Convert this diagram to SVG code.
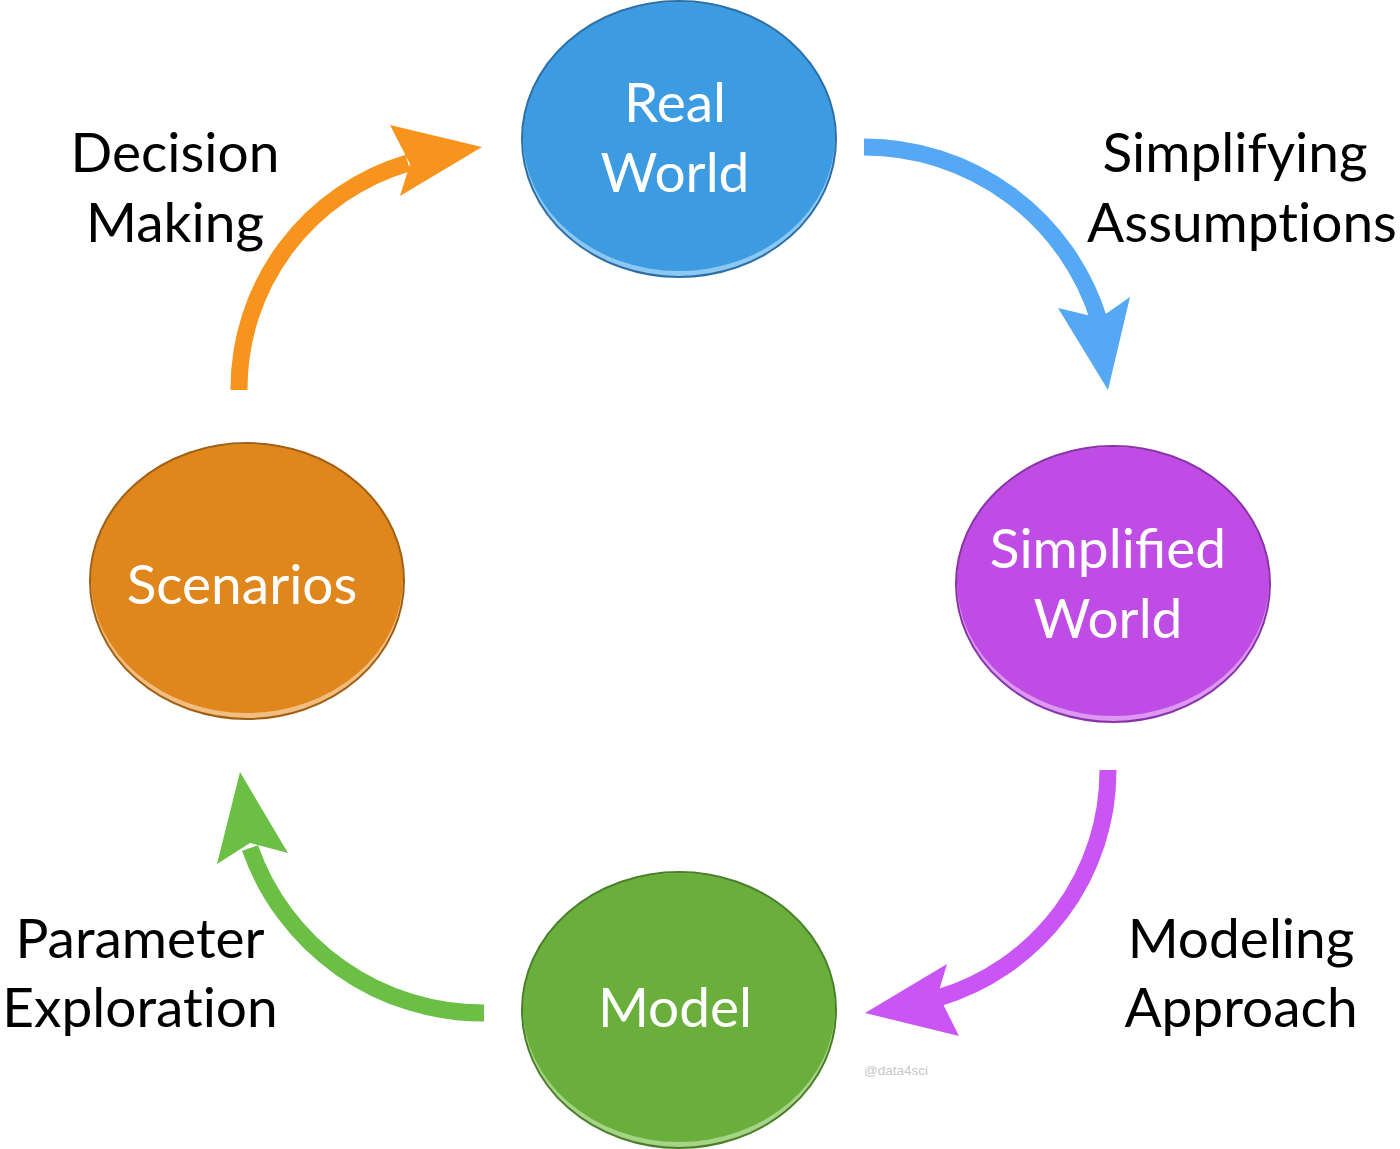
<svg xmlns="http://www.w3.org/2000/svg" width="1400" height="1149" viewBox="0 0 1400 1149">
  <style>
    .lbl { font-family: "Lato", "Open Sans", sans-serif; font-size: 55px; fill: #000; text-anchor: middle; font-variant-ligatures: none; }
    .nt { font-family: "Lato", "Open Sans", sans-serif; font-size: 55px; fill: #fff; text-anchor: middle; }
    .shaft { fill: none; stroke-width: 17; }
    .wm { font-family: "Liberation Sans", Arial, sans-serif; font-size: 13.5px; fill: #c8c8c8; }
  </style>
  <rect width="1400" height="1149" fill="#fff"/>

  <g id="connectors">
    <g id="edge-real-simplified">
      <path class="shaft" stroke="#55a8f4" d="M864,147 A245.6,245.6 0 0 1 1099,320"/>
      <polygon fill="#55a8f4" points="1108,390 1130,297 1100,318 1058,308"/>
    </g>
    <g id="edge-simplified-model">
      <path class="shaft" stroke="#c955f4" d="M1108,770 A237.4,237.4 0 0 1 938,998"/>
      <polygon fill="#c955f4" points="865,1013 947,964 938,994 959,1036"/>
    </g>
    <g id="edge-model-scenarios">
      <path class="shaft" stroke="#6cbf45" d="M484,1013 A246.6,246.6 0 0 1 250,848"/>
      <polygon fill="#6cbf45" points="240,772 288,853 250,843 217,864"/>
    </g>
    <g id="edge-scenarios-real">
      <path class="shaft" stroke="#f7941d" stroke-width="18" d="M239,390 A235.5,235.5 0 0 1 408,163"/>
      <polygon fill="#f7941d" points="482,147 390,125 410,164 400,196"/>
    </g>
  </g>

  <g id="node-real-world">
    <ellipse cx="679" cy="139" rx="157" ry="138" fill="#8cc8f2"/>
    <ellipse cx="679" cy="136.5" rx="156" ry="134.5" fill="#3d9be1"/>
    <ellipse cx="679" cy="139" rx="157" ry="138" fill="none" stroke="#2b6fa6" stroke-width="2"/>
    <text class="nt" x="675" y="122">Real</text>
    <text class="nt" x="675" y="192">World</text>
  </g>

  <g id="node-simplified-world">
    <ellipse cx="1113" cy="584" rx="157" ry="138" fill="#dc98f2"/>
    <ellipse cx="1113" cy="581.5" rx="156" ry="134.5" fill="#bf4ce5"/>
    <ellipse cx="1113" cy="584" rx="157" ry="138" fill="none" stroke="#8a32a8" stroke-width="2"/>
    <text class="nt" x="1108" y="568">Simplified</text>
    <text class="nt" x="1108" y="638">World</text>
  </g>

  <g id="node-model">
    <ellipse cx="679" cy="1010" rx="157" ry="138" fill="#a6d486"/>
    <ellipse cx="679" cy="1007.5" rx="156" ry="134.5" fill="#6aaf3c"/>
    <ellipse cx="679" cy="1010" rx="157" ry="138" fill="none" stroke="#4a7f2a" stroke-width="2"/>
    <text class="nt" x="675" y="1027">Model</text>
  </g>

  <g id="node-scenarios">
    <ellipse cx="247" cy="581" rx="157" ry="138" fill="#f2bd80"/>
    <ellipse cx="247" cy="578.5" rx="156" ry="134.5" fill="#df861c"/>
    <ellipse cx="247" cy="581" rx="157" ry="138" fill="none" stroke="#a05f12" stroke-width="2"/>
    <text class="nt" x="242" y="604">Scenarios</text>
  </g>

  <g id="labels">
    <text class="lbl" x="175" y="172">Decision</text>
    <text class="lbl" x="175" y="242">Making</text>
    <text class="lbl" x="1235" y="172">Simplifying</text>
    <text class="lbl" x="1242" y="242">Assumptions</text>
    <text class="lbl" x="1241" y="958">Modeling</text>
    <text class="lbl" x="1241" y="1027">Approach</text>
    <text class="lbl" x="140" y="958">Parameter</text>
    <text class="lbl" x="140" y="1027">Exploration</text>
  </g>

  <text class="wm" x="864" y="1075">@data4sci</text>
</svg>
